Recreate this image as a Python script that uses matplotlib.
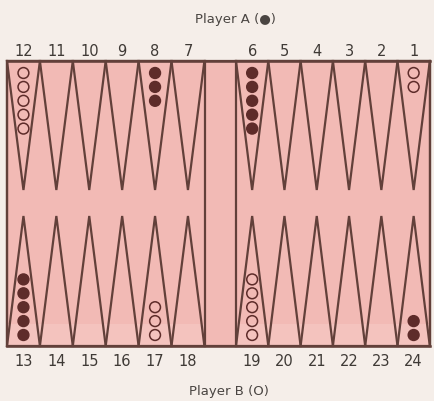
import matplotlib
matplotlib.use("Agg")
import matplotlib.pyplot as plt
from matplotlib.patches import Polygon, Rectangle, Circle

# ---- data ----
top_points = [12, 11, 10, 9, 8, 7, 6, 5, 4, 3, 2, 1]
bottom_points = [13, 14, 15, 16, 17, 18, 19, 20, 21, 22, 23, 24]
white_points = [12, 1, 17, 19]
white_counts = [5, 2, 3, 5]
black_points = [8, 6, 13, 24]
black_counts = [3, 5, 5, 2]
title_top = "Player A (●)"
title_bottom = "Player B (O)"

# ---- style ----
BG = "#f5eee9"
BOARD = "#f2bab5"
LINE = "#62403a"
CHECK = "#5e2c2a"

W, H = 434, 401
fig = plt.figure(figsize=(W / 100, H / 100), dpi=100, facecolor=BG)
ax = fig.add_axes([0, 0, 1, 1])
ax.set_xlim(0, W)
ax.set_ylim(H, 0)
ax.axis("off")

top_y, bot_y = 61, 346
top_tip, bot_tip = 190, 216
left_x0, left_w = 7, 32.9
right_x0, right_w = 236, 32.3
bar_l, bar_r = 205, 236
board_r = 430


def col_left(i):
    if i < 6:
        return left_x0 + i * left_w, left_w
    return right_x0 + (i - 6) * right_w, right_w


ax.add_patch(Rectangle((left_x0, top_y), board_r - left_x0, bot_y - top_y,
                       facecolor=BOARD, edgecolor=LINE, lw=1.6, zorder=1))
ax.add_patch(Rectangle((left_x0, 324), bar_l - left_x0, bot_y - 324,
                       facecolor="#f4c3be", edgecolor="none", zorder=1.1))
ax.add_patch(Rectangle((right_x0, 324), board_r - right_x0, bot_y - 324,
                       facecolor="#f4c3be", edgecolor="none", zorder=1.1))
ax.plot([left_x0, board_r], [top_y, top_y], color=LINE, lw=1.8, zorder=3)
ax.plot([left_x0, board_r], [bot_y, bot_y], color=LINE, lw=1.8, zorder=3)
for x in (left_x0, bar_l, bar_r, board_r):
    ax.plot([x, x], [top_y, bot_y], color=LINE, lw=1.6, zorder=3)

pos = {}
for i in range(12):
    x0, w = col_left(i)
    cx = x0 + w / 2
    pos[top_points[i]] = (cx, "top")
    pos[bottom_points[i]] = (cx, "bot")
    ax.add_patch(Polygon([(x0, top_y), (x0 + w, top_y), (cx, top_tip)],
                         closed=True, fill=False, edgecolor=LINE, lw=1.6, zorder=2))
    ax.add_patch(Polygon([(x0, bot_y), (x0 + w, bot_y), (cx, bot_tip)],
                         closed=True, fill=False, edgecolor=LINE, lw=1.6, zorder=2))
    ax.text(cx, 52, str(top_points[i]), ha="center", va="center",
            fontsize=10.5, color="#3f3a36", family="DejaVu Sans")
    ax.text(cx, 361, str(bottom_points[i]), ha="center", va="center",
            fontsize=10.5, color="#3f3a36", family="DejaVu Sans")

r = 5.4
step = 13.9


def draw_stack(pt, n, filled):
    cx, side = pos[pt]
    for k in range(n):
        if side == "top":
            cy = 73 + k * step
        else:
            cy = 335 - k * step
        ax.add_patch(Circle((cx, cy), r,
                            facecolor=CHECK if filled else "none",
                            edgecolor=CHECK, lw=1.1, zorder=4))


for p, n in zip(white_points, white_counts):
    draw_stack(p, n, False)
for p, n in zip(black_points, black_counts):
    draw_stack(p, n, True)

ax.text(235, 20, title_top, ha="center", va="center", fontsize=9.5,
        color="#4a4542", family="DejaVu Sans")
ax.text(229, 391, title_bottom, ha="center", va="center", fontsize=9.5,
        color="#4a4542", family="DejaVu Sans")

fig.savefig("out.png", dpi=100, facecolor=BG)
